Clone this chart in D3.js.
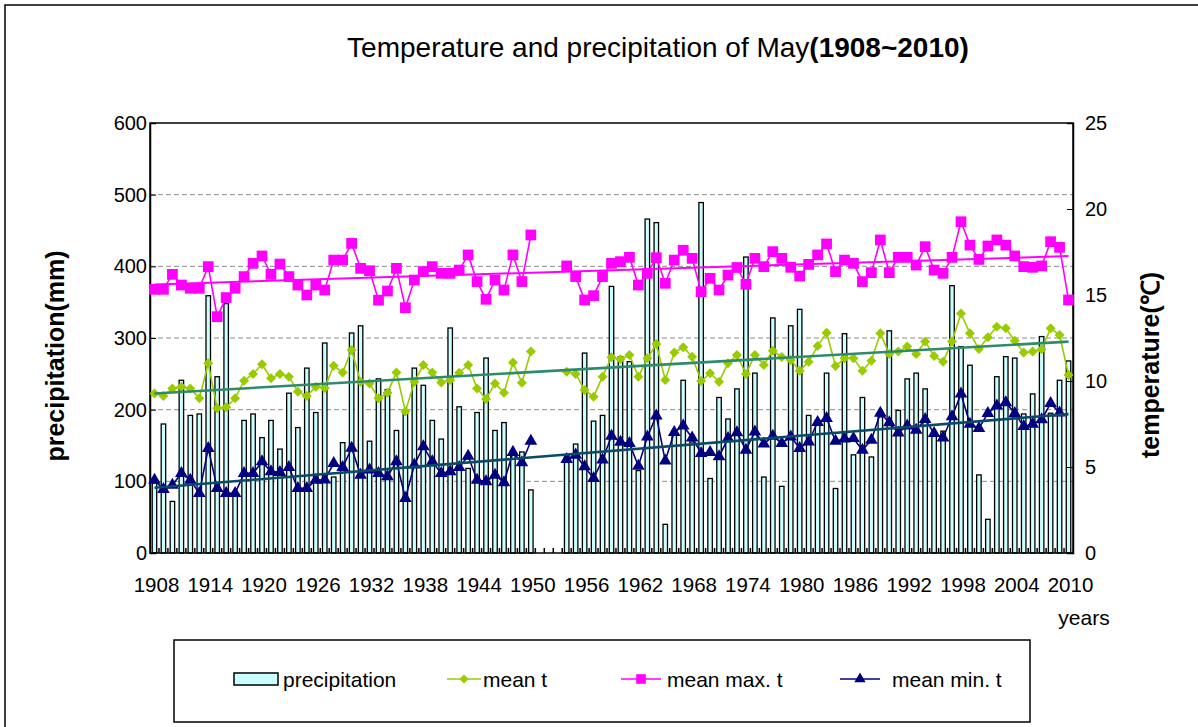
<!DOCTYPE html>
<html>
<head>
<meta charset="utf-8">
<script src="https://cdn.jsdelivr.net/npm/d3@7/dist/d3.min.js"></script>
<style>
  body { margin: 0; background: #fff; }
  text { font-family: "Liberation Sans", Arial, sans-serif; fill: #000; }
</style>
</head>
<body>
<div id="chart"></div>
<script>
// categories: every year 1908..2010 (1951-1953 have no data)
var years = d3.range(1908, 2011);
var tickYears = [1908, 1914, 1920, 1926, 1932, 1938, 1944, 1950, 1956, 1962, 1968, 1974, 1980, 1986, 1992, 1998, 2004, 2010];
var precipTicks = [0, 100, 200, 300, 400, 500, 600];
var tempTicks = [0, 5, 10, 15, 20, 25];

// precipitation (mm)
var precip = [
  98, 180, 72, 241, 192, 194, 359, 246, 348, 85,
  185, 194, 161, 185, 145, 223, 175, 258, 196, 293,
  106, 154, 307, 317, 156, 243, 228, 171, 195, 258,
  234, 185, 159, 314, 204, 118, 196, 272, 171, 182,
  140, 141, 88, null, null, null, 137, 152, 279, 184,
  192, 372, 274, 267, 115, 466, 461, 40, 171, 241,
  155, 489, 104, 217, 187, 229, 413, 251, 106, 328,
  93, 317, 340, 192, 185, 251, 90, 306, 137, 217,
  134, 190, 310, 199, 243, 251, 229, 165, 170, 373,
  288, 262, 109, 47, 246, 274, 272, 194, 222, 302,
  195, 241, 268
];

// mean temperature (C)
var meanT = [
  9.28, 9.13, 9.57, 9.67, 9.57, 8.99, 11.03, 8.41, 8.47, 8.99,
  10.02, 10.41, 10.97, 10.16, 10.41, 10.25, 9.38, 9.13, 9.67, 9.6,
  10.89, 10.5, 11.8, 9.96, 9.86, 8.99, 9.32, 10.5, 8.22, 9.96,
  10.93, 10.5, 9.92, 10.06, 10.48, 10.93, 9.57, 8.95, 9.86, 9.32,
  11.07, 9.9, 11.71, null, null, null, 10.54, 10.41, 9.48, 9.09,
  10.25, 11.38, 11.26, 11.51, 10.25, 11.32, 12.15, 10.06, 11.65, 11.96,
  11.41, 10.0, 10.45, 9.96, 11.03, 11.51, 10.4, 11.51, 10.93, 11.76,
  11.4, 11.22, 10.6, 11.12, 12.03, 12.81, 10.87, 11.32, 11.32, 10.6,
  11.18, 12.77, 11.57, 11.71, 12.0, 11.57, 12.3, 11.45, 11.12, 12.29,
  13.93, 12.77, 11.86, 12.54, 13.16, 13.06, 12.34, 11.65, 11.71, 11.84,
  13.06, 12.67, 10.35
];

// mean maximum temperature (C)
var maxT = [
  15.33, 15.33, 16.2, 15.58, 15.39, 15.39, 16.65, 13.74, 14.85, 15.39,
  16.07, 16.84, 17.27, 16.2, 16.8, 16.07, 15.58, 15.0, 15.58, 15.29,
  17.03, 17.03, 18.0, 16.55, 16.41, 14.7, 15.23, 16.55, 14.26, 15.87,
  16.36, 16.65, 16.26, 16.26, 16.45, 17.33, 15.78, 14.75, 15.87, 15.29,
  17.33, 15.78, 18.49, null, null, null, 16.69, 16.07, 14.71, 14.96,
  16.07, 16.84, 16.94, 17.19, 15.58, 16.26, 17.17, 15.68, 17.03, 17.6,
  17.13, 15.19, 15.97, 15.29, 16.16, 16.6, 15.62, 17.13, 16.65, 17.52,
  17.13, 16.61, 16.1, 16.78, 17.33, 17.97, 16.36, 17.03, 16.84, 15.78,
  16.3, 18.2, 16.3, 17.19, 17.19, 16.74, 17.81, 16.45, 16.26, 17.19,
  19.26, 17.9, 17.07, 17.85, 18.2, 17.9, 17.27, 16.65, 16.61, 16.69,
  18.1, 17.77, 14.71
];

// mean minimum temperature (C)
var minT = [
  4.24, 3.7, 3.95, 4.63, 4.24, 3.47, 6.09, 3.76, 3.47, 3.47,
  4.63, 4.63, 5.31, 4.73, 4.69, 4.98, 3.76, 3.76, 4.24, 4.26,
  5.21, 4.98, 6.1, 4.53, 4.83, 4.63, 4.44, 5.31, 3.18, 5.12,
  6.18, 5.31, 4.63, 4.73, 4.98, 5.64, 4.24, 4.15, 4.53, 4.1,
  5.86, 5.25, 6.5, null, null, null, 5.45, 5.7, 5.02, 4.34,
  5.41, 6.8, 6.45, 6.37, 5.05, 6.76, 7.97, 5.36, 7.02, 7.4,
  6.7, 5.8, 5.85, 5.6, 6.67, 7.0, 5.99, 7.05, 6.34, 6.8,
  6.38, 6.76, 6.09, 6.47, 7.6, 7.83, 6.5, 6.64, 6.66, 5.99,
  6.57, 8.14, 7.58, 6.98, 7.4, 7.15, 7.77, 6.96, 6.7, 7.93,
  9.25, 7.5, 7.25, 8.12, 8.55, 8.74, 8.12, 7.36, 7.5, 7.75,
  8.7, 8.15, null
];

var svgWidth = 1198;
var svgHeight = 727;
var plot = {left: 150, right: 1073, top: 123, bottom: 553};

var svg = d3.select("#chart").append("svg")
  .attr("width", svgWidth)
  .attr("height", svgHeight);

svg.append("rect").attr("width", svgWidth).attr("height", svgHeight).attr("fill", "#fff");
// outer chart frame
svg.append("rect")
  .attr("x", 5).attr("y", 5)
  .attr("width", svgWidth).attr("height", svgHeight)
  .attr("fill", "none").attr("stroke", "#000").attr("stroke-width", 1.5);

function label(x, y, txt, size, anchor, weight, rotate) {
  var t = "translate(" + x + "," + y + ")" + (rotate ? " rotate(" + rotate + ")" : "");
  return svg.append("text")
    .attr("transform", t)
    .attr("font-size", size)
    .attr("text-anchor", anchor || "start")
    .attr("font-weight", weight || "normal")
    .text(txt);
}

// scales
var xScale = d3.scaleBand().domain(years).range([plot.left, plot.right]);
var cx = function(yr) { return xScale(yr) + xScale.bandwidth() / 2; };
var yP = d3.scaleLinear().domain([0, 600]).range([plot.bottom, plot.top]);
var yT = d3.scaleLinear().domain([0, 25]).range([plot.bottom, plot.top]);

// gridlines
svg.append("g").selectAll("line")
  .data(precipTicks.filter(function(v) { return v > 0 && v < 600; }))
  .enter().append("line")
  .attr("x1", plot.left).attr("x2", plot.right)
  .attr("y1", function(d) { return yP(d); }).attr("y2", function(d) { return yP(d); })
  .attr("stroke", "#8c8c8c").attr("stroke-width", 1).attr("stroke-dasharray", "5,3");

// bars
var bw = xScale.bandwidth() * 0.5;
svg.append("g").selectAll("rect")
  .data(years.map(function(y, i) { return {year: y, v: precip[i]}; }).filter(function(d) { return d.v != null; }))
  .enter().append("rect")
  .attr("x", function(d) { return cx(d.year) - bw / 2; })
  .attr("y", function(d) { return yP(d.v); })
  .attr("width", bw)
  .attr("height", function(d) { return yP(0) - yP(d.v); })
  .attr("fill", "#ccffff")
  .attr("stroke", "#000")
  .attr("stroke-width", 1.3);

// plot border
svg.append("rect")
  .attr("x", plot.left).attr("y", plot.top)
  .attr("width", plot.right - plot.left).attr("height", plot.bottom - plot.top)
  .attr("fill", "none").attr("stroke", "#000").attr("stroke-width", 1.5);

// axes (ticks point inward)
var leftAxis = d3.axisLeft(yP).tickValues(precipTicks).tickSize(-6).tickPadding(0).tickFormat("");
var rightAxis = d3.axisRight(yT).tickValues(tempTicks).tickSize(-6).tickPadding(0).tickFormat("");
svg.append("g").attr("transform", "translate(" + plot.left + ",0)").call(leftAxis)
  .call(function(g) { g.select(".domain").attr("stroke-width", 1.5); });
svg.append("g").attr("transform", "translate(" + plot.right + ",0)").call(rightAxis)
  .call(function(g) { g.select(".domain").attr("stroke-width", 1.5); });

// category boundary ticks on x axis
svg.append("g").selectAll("line")
  .data(years.slice(1))
  .enter().append("line")
  .attr("x1", function(d) { return xScale(d); }).attr("x2", function(d) { return xScale(d); })
  .attr("y1", plot.bottom).attr("y2", plot.bottom - 5)
  .attr("stroke", "#000").attr("stroke-width", 1.5);

// tick labels
precipTicks.forEach(function(v) { label(plot.left - 3, yP(v) + 7, String(v), 20, "end"); });
tempTicks.forEach(function(v) { label(plot.right + 12, yT(v) + 7, String(v), 20, "start"); });
tickYears.forEach(function(y) { label(cx(y) + 2, 592, String(y), 20.5, "middle"); });

// series
function seriesData(arr) {
  return years.map(function(y, i) { return {year: y, i: i, v: arr[i]}; });
}
var lineGen = d3.line()
  .defined(function(d) { return d.v != null; })
  .x(function(d) { return cx(d.year); })
  .y(function(d) { return yT(d.v); });

var series = [
  {name: "mean t", values: meanT, color: "#99cc00", symbol: d3.symbolSquare, size: 50, rotate: 45},
  {name: "mean max. t", values: maxT, color: "#ff00ff", symbol: d3.symbolSquare, size: 115, rotate: 0},
  {name: "mean min. t", values: minT, color: "#000080", symbol: d3.symbolTriangle, size: 70, rotate: 0}
];
var trendColors = ["#2e8b6a", "#ff00ff", "#0b4a66"];

series.forEach(function(s) {
  var data = seriesData(s.values);
  svg.append("path")
    .datum(data)
    .attr("d", lineGen)
    .attr("fill", "none")
    .attr("stroke", s.color)
    .attr("stroke-width", 1.6);
  svg.append("g").selectAll("path")
    .data(data.filter(function(d) { return d.v != null; }))
    .enter().append("path")
    .attr("d", d3.symbol().type(s.symbol).size(s.size))
    .attr("transform", function(d) { return "translate(" + cx(d.year) + "," + yT(d.v) + ") rotate(" + s.rotate + ")"; })
    .attr("fill", s.color);
});

// linear trend lines (least squares on category index)
series.forEach(function(s, k) {
  var pts = seriesData(s.values).filter(function(d) { return d.v != null; });
  var mx = d3.mean(pts, function(d) { return d.i; });
  var my = d3.mean(pts, function(d) { return d.v; });
  var slope = d3.sum(pts, function(d) { return (d.i - mx) * (d.v - my); }) /
              d3.sum(pts, function(d) { return (d.i - mx) * (d.i - mx); });
  var icpt = my - slope * mx;
  var ends = [0, years.length - 1];
  svg.append("line")
    .attr("x1", cx(years[ends[0]])).attr("y1", yT(icpt + slope * ends[0]))
    .attr("x2", cx(years[ends[1]])).attr("y2", yT(icpt + slope * ends[1]))
    .attr("stroke", trendColors[k])
    .attr("stroke-width", k === 1 ? 2 : 2.6);
});

// titles
var title = svg.append("text")
  .attr("transform", "translate(658,57)")
  .attr("font-size", 28)
  .attr("text-anchor", "middle");
title.append("tspan").text("Temperature and precipitation of May");
title.append("tspan").attr("font-weight", "bold").text("(1908~2010)");

label(64, 356, "precipitation(mm)", 25, "middle", "bold", -90);
label(1159, 365, "temperature(\u2103)", 25, "middle", "bold", -90);
label(1084, 625, "years", 21, "middle");

// legend
var lg = svg.append("g");
lg.append("rect").attr("x", 174).attr("y", 640).attr("width", 856).attr("height", 82)
  .attr("fill", "#fff").attr("stroke", "#000").attr("stroke-width", 1.5);
lg.append("rect").attr("x", 234).attr("y", 673).attr("width", 44).attr("height", 12)
  .attr("fill", "#ccffff").attr("stroke", "#000").attr("stroke-width", 1.5);
label(283, 687, "precipitation", 21, "start");

var legendItems = [
  {x: 447, textX: 483},
  {x: 621, textX: 667},
  {x: 840, textX: 892}
];
series.forEach(function(s, k) {
  var it = legendItems[k];
  var len = k === 0 ? 34 : 40;
  lg.append("line").attr("x1", it.x).attr("x2", it.x + len).attr("y1", 679).attr("y2", 679)
    .attr("stroke", s.color).attr("stroke-width", 1.6);
  lg.append("path")
    .attr("d", d3.symbol().type(s.symbol).size(s.size * 0.8))
    .attr("transform", "translate(" + (it.x + len / 2) + ",679) rotate(" + s.rotate + ")")
    .attr("fill", s.color);
  label(it.textX, 687, s.name, 21, "start");
});
</script>
</body>
</html>
